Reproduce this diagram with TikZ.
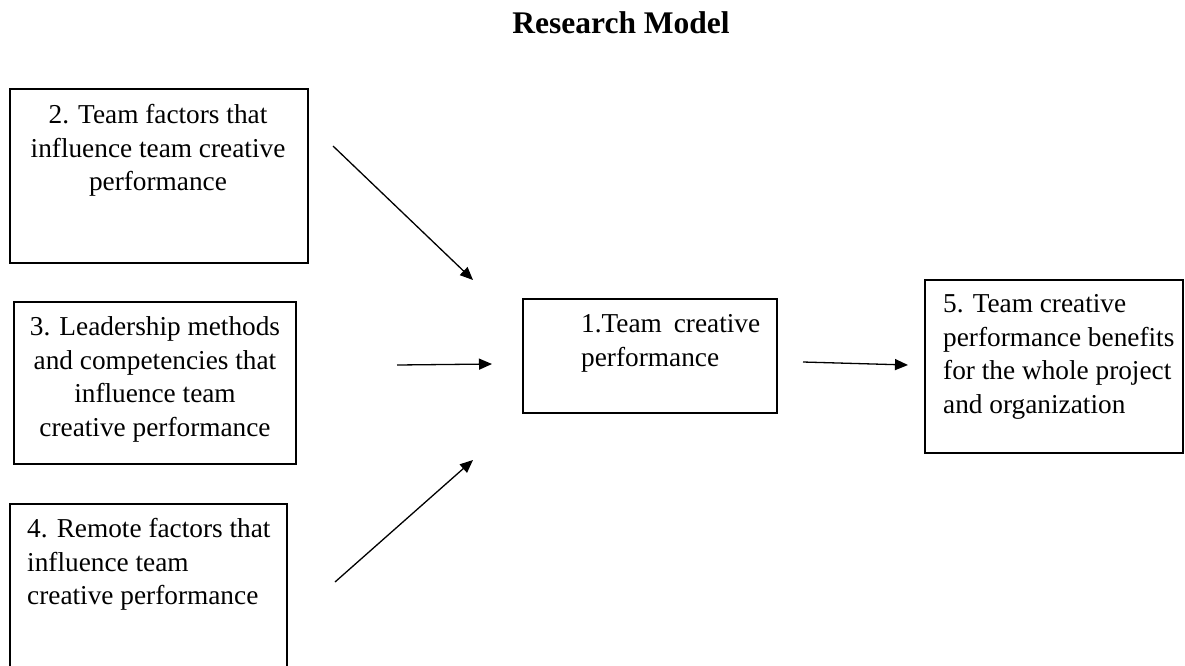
\documentclass[tikz,border=0pt]{standalone}
\usepackage{fontspec}
\setmainfont{Liberation Serif}
\usetikzlibrary{arrows.meta}
\tikzset{
  box/.style={draw=black, line width=1.2pt, rectangle, inner sep=0pt},
  txt/.style={inner sep=0pt, font=\fontsize{27.3}{33.5}\selectfont},
  conn/.style={draw=black, line width=1.3pt, -{Triangle[length=13pt,width=11pt]}},
}
\begin{document}
\begin{tikzpicture}[x=1pt,y=-1pt]
\useasboundingbox (0,0) rectangle (1185,665);
\clip (0,0) rectangle (1185,665);
% title
\node[inner sep=0pt, anchor=base, font=\fontsize{31.5}{36}\selectfont\bfseries] (title) at (621,33) {Research Model};
% boxes
\node[box, minimum width=298pt, minimum height=174pt] (b2) at (159,176) {};
\node[box, minimum width=282pt, minimum height=162pt] (b3) at (155,383) {};
\node[box, minimum width=277pt, minimum height=200pt] (b4) at (148.5,604) {};
\node[box, minimum width=254pt, minimum height=114pt] (b1) at (650,356) {};
\node[box, minimum width=258pt, minimum height=173pt] (b5) at (1054,366.5) {};
% texts
\node[txt, anchor=north, align=center] (t2) at (158,104.5) {2. Team factors that\\influence team creative\\performance};
\node[txt, anchor=north, align=center] (t3) at (155,316.5) {3. Leadership methods\\and competencies that\\influence team\\creative performance};
\node[txt, anchor=north west, align=left] (t4) at (27,518.5) {4. Remote factors that\\influence team\\creative performance};
\node[txt, anchor=north west, align=left] (t1) at (581,314.5) {\makebox[179pt][s]{1.Team creative}\\performance};
\node[txt, anchor=north west, align=left] (t5) at (943,294.5) {5. Team creative\\performance benefits\\for the whole project\\and organization};
% arrow end points
\coordinate (a1s) at (333,146);
\coordinate (a1e) at (473,280);
\coordinate (a2s) at (397,365);
\coordinate (a2e) at (492,364);
\coordinate (a3s) at (335,582);
\coordinate (a3e) at (473,460);
\coordinate (a4s) at (803,362);
\coordinate (a4e) at (908,365);
\draw[conn] (a1s) -- (a1e);
\draw[conn] (a2s) -- (a2e);
\draw[conn] (a3s) -- (a3e);
\draw[conn] (a4s) -- (a4e);
\end{tikzpicture}
\end{document}
